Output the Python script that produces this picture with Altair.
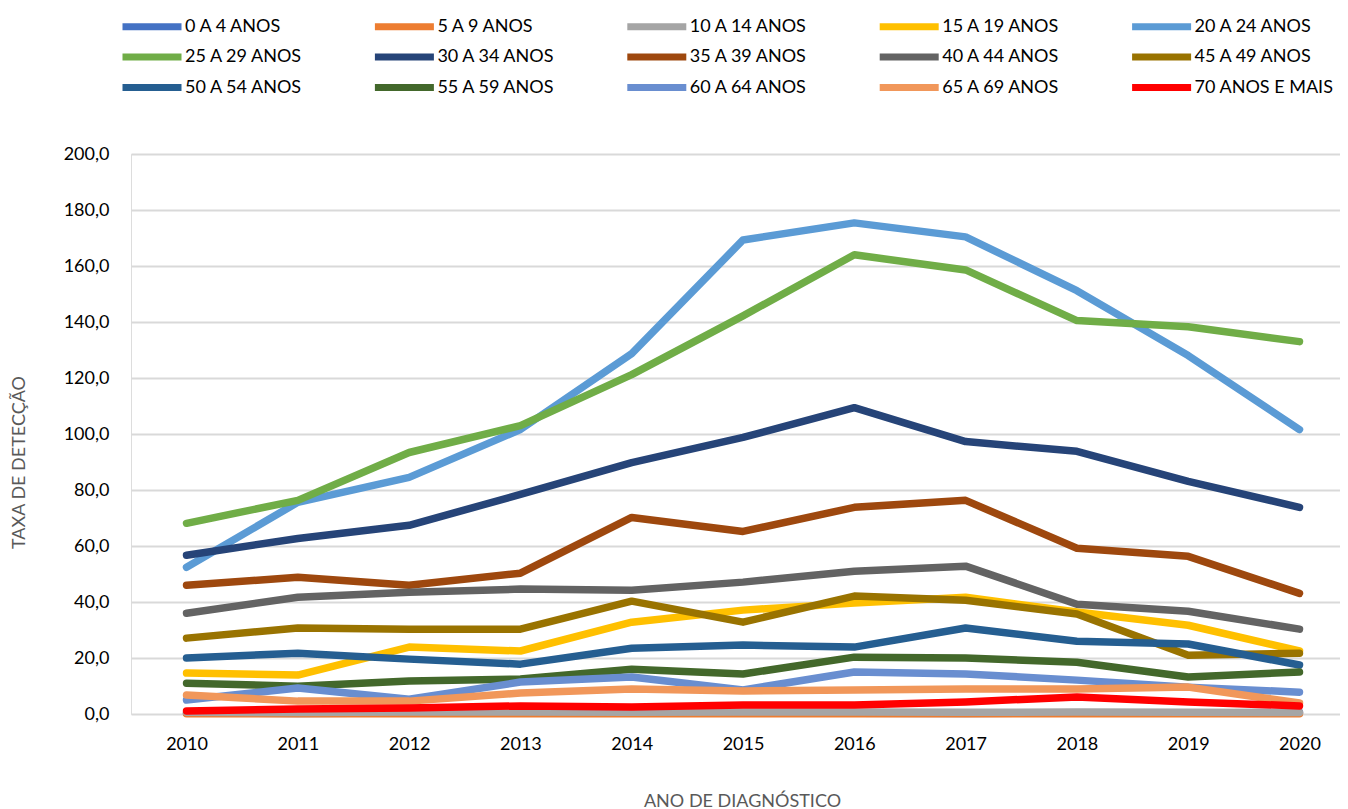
import altair as alt
import pandas as pd

years = [2010, 2011, 2012, 2013, 2014, 2015, 2016, 2017, 2018, 2019, 2020]

categories = [
    "0 A 4 ANOS", "5 A 9 ANOS", "10 A 14 ANOS", "15 A 19 ANOS", "20 A 24 ANOS",
    "25 A 29 ANOS", "30 A 34 ANOS", "35 A 39 ANOS", "40 A 44 ANOS", "45 A 49 ANOS",
    "50 A 54 ANOS", "55 A 59 ANOS", "60 A 64 ANOS", "65 A 69 ANOS", "70 ANOS E MAIS",
]

colors = [
    "#4472C4", "#ED7D31", "#A5A5A5", "#FFC000", "#5B9BD5",
    "#70AD47", "#264478", "#9E480E", "#636363", "#997300",
    "#255E91", "#43682B", "#698ED0", "#F1975A", "#FF0000",
]

a0_4 = [0.3, 0.2, 0.4, 0.3, 0.3, 0.4, 0.3, 0.2, 0.3, 0.4, 0.6]
a5_9 = [0.1, 0.1, 0.1, 0.1, 0.1, 0.1, 0.1, 0.1, 0.1, 0.1, 0.1]
a10_14 = [0.6, 0.5, 0.7, 0.7, 0.6, 0.7, 0.7, 0.6, 0.7, 0.6, 0.5]
a15_19 = [14.6, 13.9, 23.9, 22.5, 32.8, 37.1, 39.6, 41.7, 36.4, 31.7, 22.5]
a20_24 = [52.4, 75.6, 84.5, 101.6, 128.7, 169.3, 175.4, 170.4, 151.2, 128.0, 101.6]
a25_29 = [68.1, 76.3, 93.4, 103.0, 121.2, 142.2, 164.0, 158.6, 140.5, 138.3, 133.0]
a30_34 = [56.7, 62.7, 67.4, 78.4, 89.8, 98.8, 109.4, 97.3, 93.8, 83.1, 73.8]
a35_39 = [46.0, 48.8, 46.0, 50.3, 70.2, 65.2, 73.8, 76.3, 59.2, 56.3, 43.1]
a40_44 = [36.0, 41.7, 43.5, 44.6, 44.2, 47.1, 51.0, 52.8, 39.2, 36.7, 30.3]
a45_49 = [27.1, 30.7, 30.3, 30.3, 40.3, 32.8, 42.1, 40.6, 35.7, 21.0, 21.7]
a50_54 = [20.0, 21.7, 19.6, 17.8, 23.5, 24.6, 23.9, 30.7, 26.0, 25.0, 17.5]
a55_59 = [11.0, 9.9, 11.8, 12.5, 16.0, 14.3, 20.3, 20.0, 18.5, 13.2, 15.0]
a60_64 = [5.0, 9.3, 5.3, 11.4, 13.2, 8.6, 15.0, 14.3, 12.1, 9.6, 7.8]
a65_69 = [6.8, 4.6, 4.6, 7.5, 8.9, 8.2, 8.6, 8.9, 8.9, 9.6, 3.9]
a70 = [1.1, 1.8, 2.1, 2.9, 2.5, 3.2, 3.2, 4.3, 6.1, 4.3, 2.9]

series = [a0_4, a5_9, a10_14, a15_19, a20_24, a25_29, a30_34, a35_39,
          a40_44, a45_49, a50_54, a55_59, a60_64, a65_69, a70]

y_ticks = [0, 20, 40, 60, 80, 100, 120, 140, 160, 180, 200]

rows = []
for i, (cat, vals) in enumerate(zip(categories, series)):
    for yr, v in zip(years, vals):
        rows.append({"ano": yr, "faixa": cat, "taxa": v, "ordem": i})
df = pd.DataFrame(rows)

FONT = "Lato"

chart = alt.Chart(df).mark_line(
    strokeWidth=7.5, strokeCap="round", strokeJoin="round"
).encode(
    x=alt.X(
        "ano:Q",
        scale=alt.Scale(domain=[2009.501, 2020.364], nice=False, zero=False),
        axis=alt.Axis(
            values=years, format="d", grid=False, ticks=False, domain=False,
            labelFontSize=18, labelFont=FONT, labelColor="#000000", labelPadding=21,
            title="ANO DE DIAGNÓSTICO", titleFont=FONT, titleFontSize=18,
            titleFontWeight="normal", titleColor="#595959",
            titleX=611, titleY=92, titleAlign="center", titleBaseline="alphabetic",
        ),
    ),
    y=alt.Y(
        "taxa:Q",
        scale=alt.Scale(domain=[0, 200], nice=False),
        axis=alt.Axis(
            values=y_ticks, grid=True, gridColor="#D9D9D9", gridWidth=2,
            ticks=False, domain=False,
            labelExpr="replace(format(datum.value, '.1f'), '.', ',')",
            labelFontSize=18, labelFont=FONT, labelColor="#000000", labelPadding=22,
            title="TAXA DE DETECÇÃO", titleFont=FONT, titleFontSize=18,
            titleFontWeight="normal", titleColor="#595959",
            titleX=-112, titleY=308, titleAlign="center", titleBaseline="middle",
            titleAngle=270,
        ),
    ),
    color=alt.Color(
        "faixa:N",
        sort=categories,
        scale=alt.Scale(domain=categories, range=colors),
        legend=alt.Legend(
            title=None, orient="none", legendX=-12, legendY=-141,
            columns=5, direction="horizontal", gridAlign="all",
            symbolType="M-1,0L4.9,0", symbolSize=400, symbolStrokeWidth=7,
            labelFont=FONT, labelFontSize=18, labelColor="#000000",
            labelOffset=39, columnPadding=36.4, rowPadding=1.5, padding=0,
            labelLimit=300,
        ),
    ),
    order=alt.Order("ordem:Q"),
    detail="ordem:N",
).properties(
    width=1209,
    height=560,
    padding={"left": 123, "top": 146, "right": 0, "bottom": 95},
    autosize=alt.AutoSizeParams(type="none"),
).configure_view(
    fill="#F1F1F1", stroke=None
).configure(
    background="#FFFFFF"
)

chart.save("out.html", embed_options={"renderer": "svg", "actions": False})
